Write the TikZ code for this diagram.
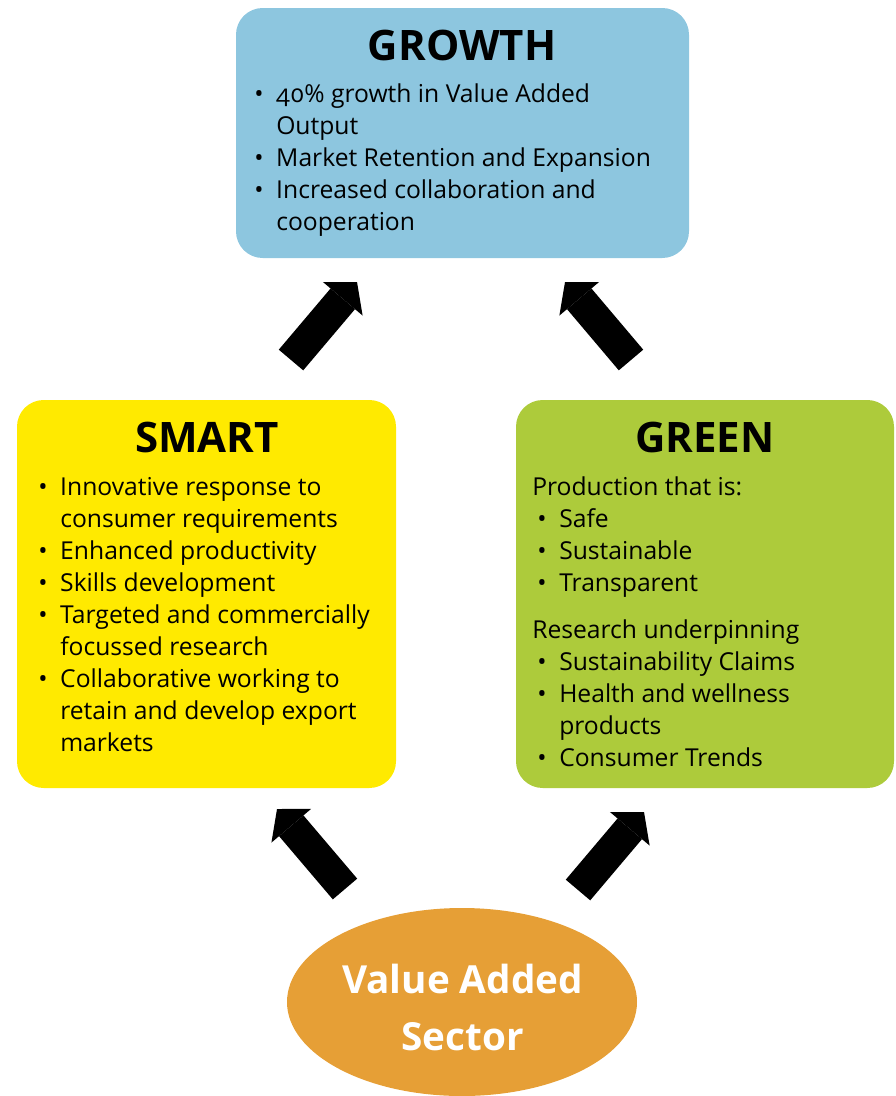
\documentclass[tikz,border=0pt]{standalone}
\usepackage{fontspec}
\setmainfont{Open Sans}[Numbers=OldStyle]
\usepackage{array}
\usetikzlibrary{arrows.meta,shapes.geometric}
\definecolor{growthblue}{HTML}{8DC6DF}
\definecolor{smartyellow}{HTML}{FFEA00}
\definecolor{greengreen}{HTML}{ADCB3B}
\definecolor{vaorange}{HTML}{E69F36}
\begin{document}
\begin{tikzpicture}[x=0.75pt,y=-0.75pt,
  box/.style={rectangle, rounded corners=20pt, inner sep=0pt, draw=none},
  titletext/.style={anchor=base, inner sep=0pt, font=\fontsize{31.5}{36}\selectfont\bfseries},
  bodytext/.style={anchor=base west, inner sep=0pt, font=\fontsize{18.5}{24}\selectfont},
  blockarrow/.style={black, line width=24pt, -{Triangle[width=39pt,length=16.5pt,line width=0pt]}}]
\useasboundingbox (0,0) rectangle (896,1096);

% boxes
\node[box, fill=growthblue, minimum width=339.75pt, minimum height=187.5pt] (growth) at (462.5,133) {};
\node[box, fill=smartyellow, minimum width=284.25pt, minimum height=291pt] (smart) at (206.5,594) {};
\node[box, fill=greengreen, minimum width=283.5pt, minimum height=291pt] (green) at (705,594) {};
\node[ellipse, fill=vaorange, inner sep=0pt, minimum width=262.5pt, minimum height=141pt] (va) at (462,1002) {};

% titles
\node[titletext] (growthtitle) at (462,60) {GROWTH};
\node[titletext] (smarttitle) at (207,452) {SMART};
\node[titletext] (greentitle) at (705,452) {GREEN};

% bodies
\node[bodytext] (growthbody) at (254,102) {%
\begin{tabular}[t]{@{}p{16.5pt}@{}l@{}}
• & 40\% growth in Value Added\\
  & Output\\
• & Market Retention and Expansion\\
• & Increased collaboration and\\
  & cooperation
\end{tabular}};

\node[bodytext] (smartbody) at (38,495) {%
\begin{tabular}[t]{@{}p{16.5pt}@{}l@{}}
• & Innovative response to\\
  & consumer requirements\\
• & Enhanced productivity\\
• & Skills development\\
• & Targeted and commercially\\
  & focussed research\\
• & Collaborative working to\\
  & retain and develop export\\
  & markets
\end{tabular}};

\node[bodytext] (greenbody) at (532,495) {%
\begin{tabular}[t]{@{}p{20.25pt}@{}l@{}}
\multicolumn{2}{@{}l@{}}{Production that is:}\\
\hspace*{3.75pt}• & Safe\\
\hspace*{3.75pt}• & Sustainable\\
\hspace*{3.75pt}• & Transparent\\[11.25pt]
\multicolumn{2}{@{}l@{}}{Research underpinning}\\
\hspace*{3.75pt}• & Sustainability Claims\\
\hspace*{3.75pt}• & Health and wellness\\
  & products\\
\hspace*{3.75pt}• & Consumer Trends
\end{tabular}};

\node[anchor=base, inner sep=0pt, text=white, font=\fontsize{29}{42.75}\selectfont\bfseries] (vatext) at (462.5,993) {%
\begin{tabular}[t]{@{}c@{}}Value Added\\Sector\end{tabular}};

% arrows
\coordinate (a1s) at (291,360); \coordinate (a1e) at (357,282);
\coordinate (a2s) at (631,360); \coordinate (a2e) at (565,282);
\coordinate (a3s) at (345,889); \coordinate (a3e) at (277,809);
\coordinate (a4s) at (578,890); \coordinate (a4e) at (644,812);
\draw[blockarrow] (a1s) -- (a1e);
\draw[blockarrow] (a2s) -- (a2e);
\draw[blockarrow] (a3s) -- (a3e);
\draw[blockarrow] (a4s) -- (a4e);
\end{tikzpicture}
\end{document}
